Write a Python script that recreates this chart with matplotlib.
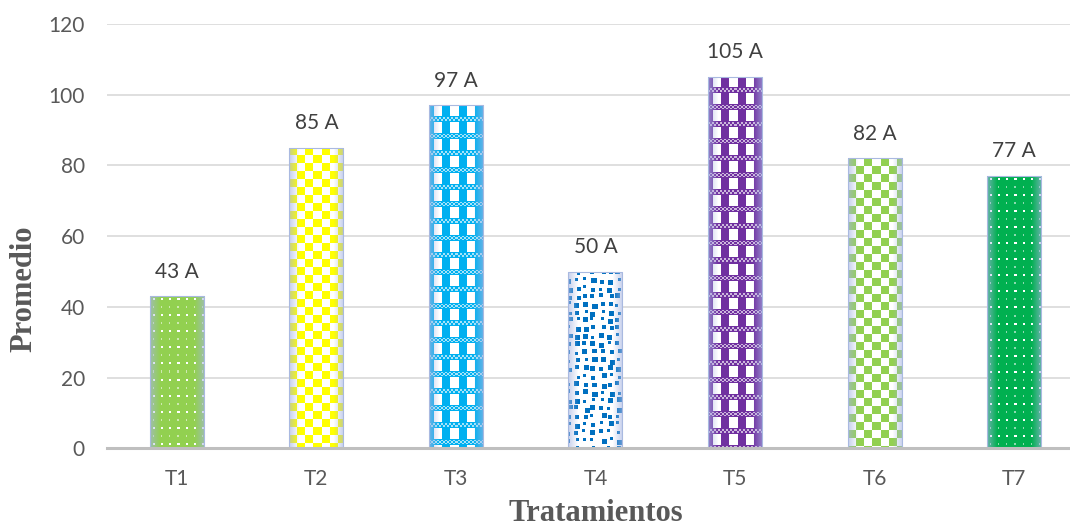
import numpy as np
import matplotlib
matplotlib.use("Agg")
import matplotlib.pyplot as plt

# Data
categories = ["T1", "T2", "T3", "T4", "T5", "T6", "T7"]
means = [43, 85, 97, 50, 105, 82, 77]
groups = ["A", "A", "A", "A", "A", "A", "A"]
yticks = [0, 20, 40, 60, 80, 100, 120]

# Fill style of each bar
bar_colors = ["#92D050", "#FFFF00", "#00B0F0", "#0070C0", "#7030A0", "#92D050", "#00B050"]
bar_patterns = ["dots", "checker", "plaid", "confetti", "plaid", "checker", "dots"]


def hex_rgb(c):
    c = c.lstrip("#")
    return np.array([int(c[i:i + 2], 16) for i in (0, 2, 4)], dtype=float) / 255.0


WHITE = np.array([1.0, 1.0, 1.0])


def grid(h, w):
    jj, ii = np.meshgrid(np.arange(w), np.arange(h))
    return ii, jj


def tex_dots(h, w, base):
    img = np.empty((h, w, 3))
    img[:] = base
    ii, jj = grid(h, w)
    row = ii // 8
    bright = (row % 2 == 0) & np.isin(ii % 8, (3, 4)) & np.isin(jj % 8, (3, 4))
    dim = (row % 2 == 1) & np.isin(ii % 8, (3, 4)) & (jj % 8 == 3)
    img[bright] = WHITE
    img[dim] = 0.45 * base + 0.55 * WHITE
    return img


def tex_checker(h, w, base, size=8):
    img = np.empty((h, w, 3))
    img[:] = WHITE
    ii, jj = grid(h, w)
    m = ((ii // size + jj // size) % 2) == 0
    img[m] = base
    return img


def tex_plaid(h, w, base):
    img = np.empty((h, w, 3))
    ii, jj = grid(h, w)
    r = ii % 17
    stripe = ((jj + 3) // 8) % 2 == 0
    img[:] = WHITE
    img[stripe] = base
    band = r >= 11
    small = ((ii // 2 + jj // 2) % 2) == 0
    light = 0.35 * base + 0.65 * WHITE
    img[band & small] = base
    img[band & ~small] = light
    img[(r == 11) | (r == 16)] = base
    return img


def cell_hash(a, b, salt):
    v = np.sin(a * 12.9898 + b * 78.233 + salt * 37.719) * 43758.5453
    return v - np.floor(v)


def tex_confetti(h, w, base):
    # scattered squares on a loose 8px lattice, jittered by a cell hash
    img = np.empty((h, w, 3))
    img[:] = WHITE
    for ci in range(h // 8 + 2):
        for cj in range(w // 8 + 2):
            oi = int(cell_hash(ci, cj, 1) * 4)
            oj = int(cell_hash(ci, cj, 2) * 4)
            s = 3 + int(cell_hash(ci, cj, 3) * 3)
            i0 = ci * 8 + oi - 2
            j0 = cj * 8 + oj - 2
            img[max(i0, 0):max(i0 + s, 0), max(j0, 0):max(j0 + s, 0)] = base
    return img


def edge_shade(img):
    h, w, _ = img.shape
    j = np.arange(w)
    d = np.minimum(j, w - 1 - j)
    a = 0.62 * np.clip(1 - d / 10.0, 0, 1)
    tint = np.array([165, 180, 225]) / 255.0
    a = a[None, :, None]
    return img * (1 - a) + tint * a


TEXTURES = {"dots": tex_dots, "checker": tex_checker,
            "plaid": tex_plaid, "confetti": tex_confetti}

fig = plt.figure(figsize=(10.7, 5.31), dpi=100)
ax = fig.add_axes([0.1, 0.1557, 0.913, 0.799])

x = np.arange(len(categories))
bars = ax.bar(x, means, width=0.387, color="none", edgecolor="#A9B9E0",
              linewidth=0.8, zorder=3)
ax.set_xlim(-0.5, len(categories) - 0.5)
ax.set_ylim(0, 120)

# Patterned fills, clipped to each bar
for bar, col, pat in zip(bars, bar_colors, bar_patterns):
    x0, w, hgt = bar.get_x(), bar.get_width(), bar.get_height()
    (px0, py0), (px1, py1) = ax.transData.transform([(x0, 0), (x0 + w, hgt)])
    wp = max(int(round(px1 - px0)), 2)
    hp = max(int(round(py1 - py0)), 2)
    img = edge_shade(TEXTURES[pat](hp, wp, hex_rgb(col)))
    im = ax.imshow(img, extent=(x0, x0 + w, 0, hgt), aspect="auto",
                   interpolation="nearest", origin="upper", zorder=2)
    im.set_clip_path(bar)

ax.set_xlim(-0.5, len(categories) - 0.5)
ax.set_ylim(0, 120)

# Value labels
for bar, v, g in zip(bars, means, groups):
    ax.annotate(f"{v} {g}", (bar.get_x() + bar.get_width() / 2, v),
                xytext=(0, 13.5), textcoords="offset points",
                ha="center", va="baseline", fontsize=15, family="Lato",
                color="#404040")

ax.set_yticks(yticks)
ax.set_xticks(x)
ax.set_xticklabels(categories)
ax.grid(axis="y", color="#D9D9D9", linewidth=1.2, zorder=0)
ax.set_axisbelow(True)
for s in ("top", "right", "left"):
    ax.spines[s].set_visible(False)
ax.spines["bottom"].set_color("#BFBFBF")
ax.spines["bottom"].set_linewidth(2.2)
ax.spines["bottom"].set_zorder(4)
ax.tick_params(axis="both", length=0, labelsize=15, labelcolor="#595959")
ax.tick_params(axis="y", pad=16)
ax.tick_params(axis="x", pad=15)
for lab in ax.get_xticklabels() + ax.get_yticklabels():
    lab.set_family("Lato")

fig.text(24 / 1070, 1 - 289 / 531, "Promedio", rotation=90, ha="center",
         va="center", fontsize=22, fontweight="bold", family="Liberation Serif",
         color="#595959")
fig.text(596 / 1070, 3 / 531, "Tratamientos", ha="center", va="bottom",
         fontsize=22, fontweight="bold", family="Liberation Serif",
         color="#595959")

fig.savefig("out.png", dpi=100)
